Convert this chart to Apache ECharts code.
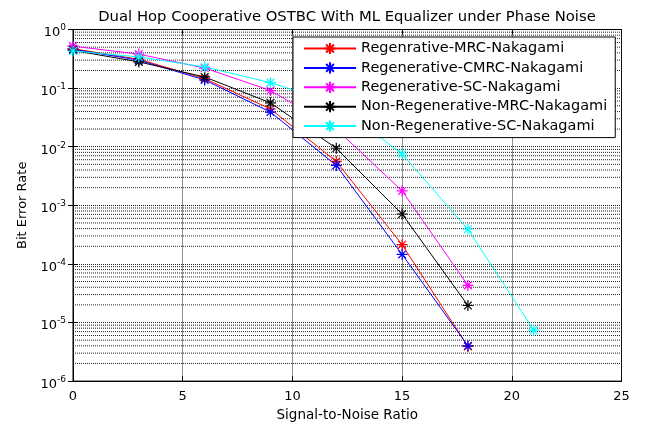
<!DOCTYPE html>
<html>
<head>
<meta charset="utf-8">
<script src="https://cdn.jsdelivr.net/npm/echarts@6/dist/echarts.min.js"></script>
<style>
html,body{margin:0;padding:0;background:#fff;}
#chart{width:647px;height:427px;}
</style>
</head>
<body>
<div id="chart"></div>
<script>
// ---- data ----
const snr = [0, 3, 6, 9, 12, 15, 18, 21];
const seriesNames = [
  'Regenrative-MRC-Nakagami',
  'Regenerative-CMRC-Nakagami',
  'Regenerative-SC-Nakagami',
  'Non-Regenerative-MRC-Nakagami',
  'Non-Regenerative-SC-Nakagami'
];
const regenMRC   = [0.47, 0.31, 0.145, 0.044, 0.0056, 0.000213, 3.9e-6];
const regenCMRC  = [0.46, 0.30, 0.138, 0.039, 0.0048, 0.000145, 4.0e-6];
const regenSC    = [0.52, 0.38, 0.22, 0.091, 0.020, 0.00176, 4.3e-5];
const nonRegenMRC= [0.44, 0.28, 0.155, 0.056, 0.0094, 0.00071, 1.95e-5];
const nonRegenSC = [0.43, 0.34, 0.23, 0.124, 0.054, 0.0075, 0.00039, 7.4e-6];
const xTicks = [0, 5, 10, 15, 20, 25];
const yDecades = [1e-6, 1e-5, 1e-4, 1e-3, 1e-2, 1e-1, 1];
const minorMultipliers = [2, 3, 4, 5, 6, 7, 8, 9];

const colors = ['#ff0000', '#0000ff', '#ff00ff', '#000000', '#00ffff'];
const allData = [regenMRC, regenCMRC, regenSC, nonRegenMRC, nonRegenSC];

const FONT = 'DejaVu Sans';
const star = 'path://M5,0L5,10M0,5L10,5M1.5,1.5L8.5,8.5M1.5,8.5L8.5,1.5';

const gridLine = {color: '#222', width: 1, type: [1, 1]};

// minor grid lines for the log axis, drawn as plain lines through the axes
const series = [];
yDecades.slice(0, -1).forEach(d => minorMultipliers.forEach(m => {
  series.push({
    type: 'line',
    data: [[xTicks[0], d * m], [xTicks[xTicks.length - 1], d * m]],
    symbol: 'none',
    silent: true,
    lineStyle: gridLine,
    emphasis: {disabled: true},
    z: 1
  });
}));

allData.forEach((vals, i) => series.push({
  name: seriesNames[i],
  type: 'line',
  data: vals.map((v, j) => [snr[j], v]),
  symbol: star,
  symbolSize: 11,
  symbolKeepAspect: true,
  lineStyle: {color: colors[i], width: 1},
  itemStyle: {color: colors[i], borderColor: colors[i], borderWidth: 1.2},
  emphasis: {disabled: true},
  z: 2
}));

const chart = echarts.init(document.getElementById('chart'));
chart.setOption({
  animation: false,
  backgroundColor: '#fff',
  title: {
    text: 'Dual Hop Cooperative OSTBC With ML Equalizer under Phase Noise',
    left: 342,
    textAlign: 'center',
    top: 5,
    textStyle: {fontFamily: FONT, fontSize: 14.8, fontWeight: 'normal', color: '#000'}
  },
  legend: {
    data: seriesNames,
    orient: 'vertical',
    left: 293,
    top: 37,
    z: 10,
    padding: [4, 8, 4, 10],
    itemWidth: 52,
    itemHeight: 14,
    itemGap: 4.4,
    backgroundColor: '#fff',
    borderColor: '#000',
    borderWidth: 1,
    borderRadius: 0,
    selectedMode: false,
    textStyle: {fontFamily: FONT, fontSize: 14.5, lineHeight: 14, color: '#000'}
  },
  grid: {
    left: 73, right: 25.5, top: 29.5, bottom: 42,
    show: true, borderColor: '#000', borderWidth: 1, backgroundColor: '#fff'
  },
  xAxis: [{
    type: 'value',
    min: 0, max: 25, interval: 5,
    name: 'Signal-to-Noise Ratio',
    nameLocation: 'middle',
    nameGap: 25,
    nameTextStyle: {fontFamily: FONT, fontSize: 13.5, color: '#000'},
    axisLine: {show: true, lineStyle: {color: '#000', width: 1}},
    axisTick: {show: true, inside: true, length: 5, lineStyle: {color: '#000'}},
    axisLabel: {fontFamily: FONT, fontSize: 13, color: '#000', margin: 9},
    splitLine: {show: true, lineStyle: gridLine}
  }, {
    type: 'value', position: 'top',
    min: 0, max: 25, interval: 5,
    axisLine: {show: true, lineStyle: {color: '#000'}},
    axisTick: {show: true, inside: true, length: 5, lineStyle: {color: '#000'}},
    axisLabel: {show: false},
    splitLine: {show: false}
  }],
  yAxis: [{
    type: 'log',
    logBase: 10,
    min: 1e-6, max: 1,
    name: 'Bit Error Rate',
    nameLocation: 'middle',
    nameGap: 44,
    nameTextStyle: {fontFamily: FONT, fontSize: 13, color: '#000'},
    axisLine: {show: true, lineStyle: {color: '#000', width: 1}},
    axisTick: {show: true, inside: true, length: 5, lineStyle: {color: '#000'}},
    axisLabel: {
      margin: 7,
      formatter: v => '{b|10}{s|' + Math.round(Math.log10(v)) + '}',
      rich: {
        b: {fontFamily: FONT, fontSize: 13, color: '#000', verticalAlign: 'bottom', lineHeight: 20},
        s: {fontFamily: FONT, fontSize: 9, color: '#000', verticalAlign: 'top', lineHeight: 11, padding: [4, 0, 0, 0]}
      }
    },
    splitLine: {show: true, lineStyle: gridLine}
  }, {
    type: 'log', logBase: 10, position: 'right',
    min: 1e-6, max: 1,
    axisLine: {show: true, lineStyle: {color: '#000'}},
    axisTick: {show: true, inside: true, length: 5, lineStyle: {color: '#000'}},
    axisLabel: {show: false},
    splitLine: {show: false}
  }],
  series: series
});
</script>
</body>
</html>
